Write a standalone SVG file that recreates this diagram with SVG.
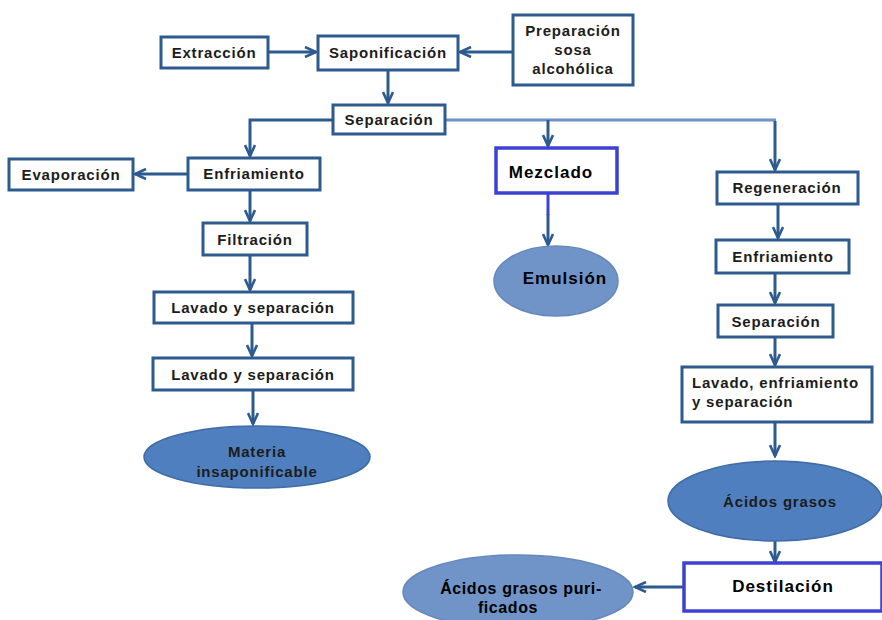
<svg xmlns="http://www.w3.org/2000/svg" width="882" height="620" viewBox="0 0 882 620">
<defs>
<style>
.box{fill:#fff;stroke:#2d5a8f;stroke-width:3}
.boxv{fill:#fff;stroke:#3d42d4;stroke-width:3.5}
.t{font-family:"Liberation Sans",Arial,sans-serif;font-weight:bold;font-size:15px;letter-spacing:0.8px;fill:#1c1c1c;text-anchor:middle}
.big{font-size:17px;letter-spacing:1px;fill:#000}
.c{fill:none;stroke:#2d5a8f;stroke-width:3}
.el{fill:#4f7fbf;stroke:#3f6ca6;stroke-width:1.5}
.ell{fill:#7094c8;stroke:#6588bd;stroke-width:1.5}
</style>
<marker id="ah" viewBox="0 0 14 12" markerWidth="14" markerHeight="12" refX="12" refY="6" orient="auto" markerUnits="userSpaceOnUse">
<path d="M1,1 L12,6 L1,11" fill="none" stroke="#2d5a8f" stroke-width="2.6"/>
</marker>
</defs>
<rect width="882" height="620" fill="#fff"/>
<g id="connectors">
<line class="c" x1="268" y1="52" x2="316" y2="52" marker-end="url(#ah)"/>
<line class="c" x1="513" y1="52" x2="460" y2="52" marker-end="url(#ah)"/>
<line class="c" x1="388" y1="70" x2="388" y2="103" marker-end="url(#ah)"/>
<polyline class="c" points="333,120 250,120 250,156" marker-end="url(#ah)"/>
<line x1="445" y1="120" x2="776" y2="120" stroke="#6f93c8" stroke-width="3"/>
<line class="c" x1="548" y1="120" x2="548" y2="146" marker-end="url(#ah)"/>
<line class="c" x1="775" y1="121" x2="775" y2="170" marker-end="url(#ah)"/>
<line class="c" x1="188" y1="174" x2="135" y2="174" marker-end="url(#ah)"/>
<line class="c" x1="250" y1="190" x2="250" y2="221" marker-end="url(#ah)"/>
<line class="c" x1="250" y1="255" x2="250" y2="290" marker-end="url(#ah)"/>
<line class="c" x1="252" y1="323" x2="252" y2="356" marker-end="url(#ah)"/>
<line class="c" x1="253" y1="390" x2="253" y2="424" marker-end="url(#ah)"/>
<line x1="548" y1="193" x2="548" y2="215" stroke="#3d42d4" stroke-width="3"/>
<line class="c" x1="548" y1="214" x2="548" y2="245" marker-end="url(#ah)"/>
<line class="c" x1="778" y1="204" x2="778" y2="238" marker-end="url(#ah)"/>
<line class="c" x1="775" y1="273" x2="775" y2="303" marker-end="url(#ah)"/>
<line class="c" x1="775" y1="337" x2="775" y2="365" marker-end="url(#ah)"/>
<line class="c" x1="775" y1="422" x2="775" y2="456" stroke-width="2.2" marker-end="url(#ah)"/>
<line class="c" x1="775" y1="541" x2="775" y2="562" marker-end="url(#ah)"/>
<line class="c" x1="684" y1="587" x2="635" y2="587" marker-end="url(#ah)"/>
</g>
<g id="extraccion"><rect class="box" x="161" y="37" width="107" height="31"/><text class="t" x="214" y="58">Extracción</text></g>
<g id="saponificacion"><rect class="box" x="318" y="36" width="140" height="34"/><text class="t" x="388" y="58">Saponificación</text></g>
<g id="preparacion"><rect class="box" x="513" y="15" width="120" height="70"/><text class="t" x="573" y="36">Preparación</text><text class="t" x="573" y="55">sosa</text><text class="t" x="573" y="74">alcohólica</text></g>
<g id="separacion"><rect class="box" x="333" y="105" width="112" height="29"/><text class="t" x="389" y="125">Separación</text></g>
<g id="evaporacion"><rect class="box" x="9" y="159" width="124" height="31"/><text class="t" x="71" y="180">Evaporación</text></g>
<g id="enfriamiento1"><rect class="box" x="188" y="158" width="132" height="32"/><text class="t" x="254" y="179">Enfriamiento</text></g>
<g id="filtracion"><rect class="box" x="203" y="223" width="104" height="32"/><text class="t" x="255" y="245">Filtración</text></g>
<g id="lavado1"><rect class="box" x="154" y="292" width="199" height="31"/><text class="t" x="253" y="313">Lavado y separación</text></g>
<g id="lavado2"><rect class="box" x="153" y="358" width="200" height="32"/><text class="t" x="253" y="380">Lavado y separación</text></g>
<g id="materia"><ellipse class="el" cx="257" cy="457" rx="113" ry="31"/><text class="t" x="257" y="457">Materia</text><text class="t" x="257" y="477">insaponificable</text></g>
<g id="mezclado"><rect class="boxv" x="496" y="148" width="121" height="45"/><text class="t big" x="551" y="178">Mezclado</text></g>
<g id="emulsion"><ellipse class="ell" cx="556" cy="281" rx="62" ry="35"/><text class="t big" x="565" y="284">Emulsión</text></g>
<g id="regeneracion"><rect class="box" x="717" y="172" width="141" height="32"/><text class="t" x="787" y="193">Regeneración</text></g>
<g id="enfriamiento2"><rect class="box" x="716" y="240" width="133" height="33"/><text class="t" x="783" y="262">Enfriamiento</text></g>
<g id="separacion2"><rect class="box" x="718" y="305" width="115" height="32"/><text class="t" x="776" y="327">Separación</text></g>
<g id="lavado3"><rect class="box" x="682" y="367" width="190" height="55"/><text class="t" x="692" y="388" style="text-anchor:start">Lavado, enfriamiento</text><text class="t" x="692" y="407" style="text-anchor:start">y separación</text></g>
<g id="acidos"><ellipse class="el" cx="775" cy="501" rx="107" ry="40"/><text class="t" x="780" y="507" style="font-weight:600">Ácidos grasos</text></g>
<g id="destilacion"><rect class="boxv" x="684" y="563" width="198" height="48"/><text class="t big" x="783" y="592">Destilación</text></g>
<g id="purificados"><ellipse class="ell" cx="518" cy="592" rx="115" ry="37"/><text class="t" x="521" y="594" style="fill:#000;font-size:16px;letter-spacing:0.6px">Ácidos grasos puri-</text><text class="t" x="508" y="613" style="fill:#000;font-size:16px;letter-spacing:0.6px">ficados</text></g>
</svg>
